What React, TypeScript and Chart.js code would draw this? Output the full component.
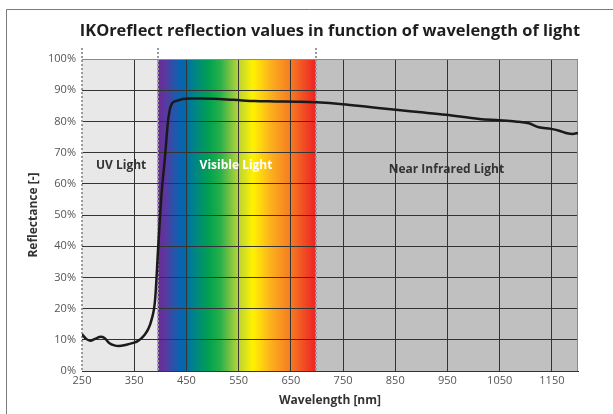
import React, { useEffect, useRef } from "react";
import { Chart, registerables } from "chart.js";

Chart.register(...registerables);

const titleText = "IKOreflect reflection values in function of wavelength of light";
const xTitle = "Wavelength [nm]";
const yTitle = "Reflectance [-]";

const xTicks = [250, 350, 450, 550, 650, 750, 850, 950, 1050, 1150];
const xMin = 250;
const xMax = 1200;

const wavelengths = [
  250, 258, 266, 275, 286, 293, 302, 312, 320, 335, 348, 356, 362, 370, 377, 383, 390,
  396, 402, 409, 415, 421, 431, 456, 480, 540, 580, 620, 667, 699, 749, 800, 851, 900,
  947, 1011, 1049, 1080, 1106, 1125, 1148, 1164, 1179, 1190, 1200,
];
const reflectance = [
  11.8, 10.3, 9.7, 10.3, 11.0, 10.6, 9.0, 8.2, 8.0, 8.4, 9.0, 9.5, 10.2, 11.6, 13.5, 16.3, 22.8,
  39.8, 55.9, 68.7, 80.4, 85.3, 86.6, 87.3, 87.3, 86.9, 86.5, 86.4, 86.3, 86.1, 85.5, 84.6, 83.7, 82.9,
  82.1, 80.8, 80.4, 80.0, 79.4, 78.1, 77.6, 77.0, 76.2, 76.0, 76.3,
];

const regionNames = ["UV Light", "Visible Light", "Near Infrared Light"];
const regionStart = [250, 395, 698];
const regionEnd = [395, 698, 1200];
const labelNm = [325, 545, 948];
const labelPct = [66, 65.7, 64.7];

const uvColor = "#e8e8e8";
const nirColor = "#c0c0c1";
const spectrumNm = [395, 410, 428, 445, 462, 492, 515, 548, 577, 612, 650, 698];
const spectrumColors = [
  "#6a2c92", "#5a38a0", "#1f58ac", "#0068b0", "#00808e", "#00a052", "#28b04a",
  "#b4d23a", "#fff200", "#fbb01e", "#f57a22", "#ee2226",
];

const bgPlugin = {
  id: "bgRegions",
  beforeDraw(chart: any) {
    const { ctx, chartArea, scales } = chart;
    const x = scales.x;
    const top = chartArea.top;
    const h = chartArea.bottom - chartArea.top;
    ctx.save();
    ctx.strokeStyle = "#7a7a7a";
    ctx.lineWidth = 1;
    ctx.beginPath();
    ctx.moveTo(6.5, chart.height);
    ctx.lineTo(6.5, 9.5);
    ctx.lineTo(chart.width, 9.5);
    ctx.stroke();
    ctx.fillStyle = "#1e1e1e";
    ctx.font = "bold 16.4px 'Open Sans'";
    ctx.textAlign = "center";
    ctx.textBaseline = "middle";
    ctx.fillText(titleText, (chartArea.left + chartArea.right) / 2, 31);
    const uv0 = x.getPixelForValue(regionStart[0]);
    const uv1 = x.getPixelForValue(regionEnd[0]);
    ctx.fillStyle = uvColor;
    ctx.fillRect(uv0, top, uv1 - uv0, h);
    const v0 = x.getPixelForValue(regionStart[1]);
    const v1 = x.getPixelForValue(regionEnd[1]);
    const grad = ctx.createLinearGradient(v0, 0, v1, 0);
    spectrumNm.forEach((nm, i) => {
      grad.addColorStop((nm - spectrumNm[0]) / (spectrumNm[spectrumNm.length - 1] - spectrumNm[0]), spectrumColors[i]);
    });
    ctx.fillStyle = grad;
    ctx.fillRect(v0, top, v1 - v0, h);
    const n0 = x.getPixelForValue(regionStart[2]);
    const n1 = x.getPixelForValue(regionEnd[2]);
    ctx.fillStyle = nirColor;
    ctx.fillRect(n0, top, n1 - n0, h);
    ctx.restore();
  },
  beforeDatasetsDraw(chart: any) {
    const { ctx, chartArea, scales } = chart;
    const x = scales.x;
    ctx.save();
    ctx.strokeStyle = "#8a8a8a";
    ctx.lineWidth = 1;
    ctx.beginPath();
    ctx.moveTo(chartArea.left, chartArea.top + 0.5);
    ctx.lineTo(chartArea.right, chartArea.top + 0.5);
    ctx.moveTo(chartArea.right - 0.5, chartArea.top);
    ctx.lineTo(chartArea.right - 0.5, chartArea.bottom);
    ctx.stroke();
    ctx.strokeStyle = "#9a9a9a";
    ctx.lineWidth = 2;
    ctx.setLineDash([2, 2]);
    regionStart.forEach((nm) => {
      const px = Math.round(x.getPixelForValue(nm));
      ctx.beginPath();
      ctx.moveTo(px, chartArea.top - 11);
      ctx.lineTo(px, chartArea.bottom);
      ctx.stroke();
    });
    ctx.restore();
  },
  afterDatasetsDraw(chart: any) {
    const { ctx, scales } = chart;
    ctx.save();
    ctx.font = "bold 12px 'Open Sans'";
    ctx.textAlign = "center";
    ctx.textBaseline = "middle";
    regionNames.forEach((name, i) => {
      ctx.fillStyle = i === 1 ? "#ffffff" : "#333333";
      ctx.fillText(name, scales.x.getPixelForValue(labelNm[i]), scales.y.getPixelForValue(labelPct[i]));
    });
    ctx.restore();
  },
};

export default function App() {
  const ref = useRef<HTMLCanvasElement>(null);
  useEffect(() => {
    if (!ref.current) return;
    const chart = new Chart(ref.current, {
      type: "line",
      data: {
        datasets: [
          {
            label: "Reflectance",
            data: wavelengths.map((w, i) => ({ x: w, y: reflectance[i] })),
            borderColor: "#1a1a1a",
            borderWidth: 2.5,
            pointRadius: 0,
            cubicInterpolationMode: "monotone",
            fill: false,
          },
        ],
      },
      plugins: [bgPlugin],
      options: {
        animation: false,
        responsive: false,
        layout: { padding: { left: 0, right: 35, top: 59, bottom: 0 } },
        plugins: {
          legend: { display: false },
          tooltip: { enabled: false },
          title: { display: false },
        },
        scales: {
          x: {
            type: "linear",
            min: xMin,
            max: xMax,
            afterBuildTicks: (s: any) => {
              s.ticks = xTicks.map((v) => ({ value: v }));
            },
            afterFit: (s: any) => {
              s.height = 43;
            },
            ticks: {
              color: "#555",
              font: { family: "'Open Sans'", size: 11 },
              padding: 3,
              maxRotation: 0,
              autoSkip: false,
              callback: (v: any) => String(v),
            },
            grid: {
              drawTicks: false,
              color: (c: any) => (c.tick && c.tick.value === 250 ? "rgba(0,0,0,0)" : "#333333"),
              lineWidth: 1,
            },
            border: { display: true, color: "#333", width: 1 },
            title: {
              display: true,
              text: xTitle,
              color: "#333",
              font: { family: "'Open Sans'", size: 12, weight: "bold" },
              padding: { top: 0, bottom: 6 },
            },
          },
          y: {
            min: 0,
            max: 100,
            afterFit: (s: any) => {
              s.width = 82;
            },
            ticks: {
              stepSize: 10,
              color: "#555",
              font: { family: "'Open Sans'", size: 11 },
              padding: 6,
              callback: (v: any) => v + "%",
            },
            grid: {
              drawTicks: false,
              color: (c: any) => (c.tick && c.tick.value === 100 ? "rgba(0,0,0,0)" : "#333333"),
              lineWidth: 1,
            },
            border: { display: false },
            title: {
              display: true,
              text: yTitle,
              color: "#333",
              font: { family: "'Open Sans'", size: 12, weight: "bold" },
              padding: { top: 26, bottom: 0 },
            },
          },
        },
      },
    } as any);
    return () => chart.destroy();
  }, []);
  return (
    <div style={{ position: "absolute", left: 0, top: 0, width: 613, height: 414, background: "#fff" }}>
      <canvas ref={ref} width={613} height={414} style={{ position: "absolute", left: 0, top: 0 }} />
    </div>
  );
}
